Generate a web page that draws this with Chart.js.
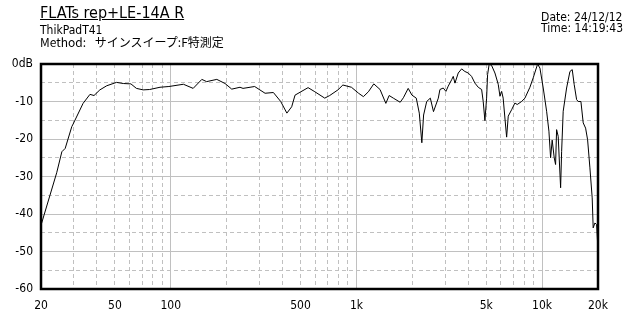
<!DOCTYPE html>
<html>
<head>
<meta charset="utf-8">
<script src="https://cdn.jsdelivr.net/npm/chart.js@4"></script>
<style>
  body { margin: 0; background: #fff; }
  #wrap { position: relative; width: 640px; height: 320px; background: #fff; }
  #myChart { position: absolute; left: 0; top: 0; }
  .txt { position: absolute; white-space: nowrap; color: #000;
         font-family: "Liberation Sans Narrow", "DejaVu Sans Condensed", "Noto Sans CJK JP", sans-serif; }
  .jp { font-family: "Liberation Sans Narrow", "Noto Sans CJK JP", sans-serif; }
</style>
</head>
<body>
<div id="wrap">
  <canvas id="myChart" width="640" height="320"></canvas>
  <div class="txt" style="left:40px; top:4px; font-size:16px; line-height:17px; text-decoration:underline;">FLATs rep+LE-14A R</div>
  <div class="txt" style="left:40px; top:24px; font-size:12px; line-height:13px;">ThikPadT41</div>
  <div class="txt jp" style="left:40px; top:35px; font-size:12px; line-height:13px;">Method: <span style="font-family:'Noto Sans CJK JP'; margin-left:6px;">サインスイープ:F特測定</span></div>
  <div class="txt" style="right:17px; top:12px; font-size:12px; line-height:11px; text-align:left;">Date: 24/12/12<br>Time: 14:19:43</div>
</div>
<script>
// frequency response (Hz, dB)
const freqs = [
  20, 24.3, 25.9, 27, 29.3, 29.8, 33.7, 36.7, 38.6, 41.5, 45.2, 51, 55.5, 61, 65.3, 71, 77, 87.5, 97.7,
  117, 132, 147, 156, 177, 196, 213, 236, 245, 283, 322, 357, 391, 422, 448, 467,
  549, 597, 675, 718, 795, 845, 940, 1027, 1090, 1160, 1240, 1340, 1440, 1500, 1580,
  1720, 1790, 1900, 1990, 2100, 2180, 2250, 2300, 2390, 2500, 2600, 2760, 2816, 2935, 3034,
  3122, 3256, 3322, 3393, 3534, 3686, 3840, 4000, 4170, 4347, 4528, 4724, 4817, 4920, 5024,
  5087, 5188, 5346, 5570, 5803, 5930, 6054, 6170, 6305, 6440, 6570, 6850, 7136, 7344, 7755,
  8080, 8596, 8954, 9458, 9733, 10140, 10576, 10880, 11110, 11330, 11620, 11820, 11970, 12210,
  12360, 12580, 12740, 12990, 13550, 14120, 14530, 14890, 15340, 15650, 16180, 16650, 17150,
  17580, 18090, 18610, 18840, 19240, 19660, 19900, 19980, 20000
];
const levels = [
  -43, -29, -23.4, -22.5, -16.7, -16, -10.5, -8.1, -8.4, -6.9, -5.8, -4.9, -5.2, -5.3, -6.5, -6.9, -6.8, -6.2, -6,
  -5.4, -6.5, -4.1, -4.7, -4.1, -5.2, -6.7, -6.2, -6.5, -6, -7.8, -7.6, -10, -13.1, -11.4, -8.3,
  -6.3, -7.4, -9.1, -8.4, -6.9, -5.6, -6.2, -7.8, -8.7, -7.4, -5.3, -6.8, -10.5, -8.4, -9.1,
  -10.2, -9, -6.5, -8.3, -9.1, -13.1, -21, -13.6, -10, -9.1, -12.7, -9.1, -6.8, -6.4, -7.3,
  -5.9, -4.2, -3.3, -5.1, -2.4, -1.3, -2, -2.4, -3.3, -5.1, -6.2, -6.8, -10, -15.1, -9.1,
  -2.8, 0, -0.4, -2.4, -5.4, -8.6, -7.3, -9.1, -14.4, -19.5, -13.9, -12.2, -10.4, -10.8, -10,
  -9.1, -6.2, -3.7, 0, -1.1, -6.4, -12.6, -17.9, -25, -20.3, -25, -26.8, -17.5, -19.3,
  -25, -33, -23.3, -12.6, -6.4, -2, -1.5, -5.5, -9.5, -10, -10, -15.7, -17.1,
  -20.2, -27.7, -35.7, -43.7, -42.4, -42.8, -47.7, -52.6, -54.5
];

const xTickValues = [20, 50, 100, 500, 1000, 5000, 10000, 20000];
const xTickLabels = ["20", "50", "100", "500", "1k", "5k", "10k", "20k"];
const yTickValues = [0, -10, -20, -30, -40, -50, -60];
const yTickLabels = ["0dB", "-10", "-20", "-30", "-40", "-50", "-60"];

const tickFont = { family: "'Liberation Sans Narrow', 'DejaVu Sans Condensed', sans-serif", size: 12 };
const gridGray = "#c0c0c0";

const frame = {
  id: "frame",
  afterDatasetsDraw(chart) {
    const a = chart.chartArea;
    const c = chart.ctx;
    c.save();
    c.strokeStyle = "#000";
    c.lineWidth = 2.5;
    c.strokeRect(a.left, a.top, a.right - a.left, a.bottom - a.top);
    c.restore();
  },
};

const ctx = document.getElementById("myChart").getContext("2d");

const myChart = new Chart(ctx, {
  type: "line",
  data: {
    datasets: [
      {
        data: freqs.map((f, i) => ({ x: f, y: levels[i] })),
        borderColor: "#000",
        borderWidth: 1,
        pointRadius: 0,
        tension: 0,
        fill: false,
      },
    ],
  },
  options: {
    responsive: false,
    animation: false,
    layout: { padding: { left: 0, top: 64, right: 42, bottom: 0 } },
    plugins: { legend: { display: false }, tooltip: { enabled: false } },
    scales: {
      x: {
        type: "logarithmic",
        min: 20,
        max: 20000,
        afterBuildTicks(scale) {
          const t = [];
          for (let d = 10; d <= 10000; d *= 10) {
            for (let m = 1; m <= 9; m++) {
              const v = d * m;
              if (v >= 20 && v <= 20000) t.push({ value: v });
            }
          }
          scale.ticks = t;
        },
        afterFit(scale) { scale.height = 31; },
        ticks: {
          autoSkip: false,
          maxRotation: 0,
          padding: 10,
          color: "#000",
          font: tickFont,
          callback(v) {
            const i = xTickValues.indexOf(v);
            return i >= 0 ? xTickLabels[i] : "";
          },
        },
        grid: {
          drawTicks: false,
          color: gridGray,
          lineWidth: 1,
        },
        border: {
          display: false,
          dash(c) {
            const v = c.tick ? c.tick.value : 0;
            return [100, 1000, 10000].includes(v) ? [] : [4, 3];
          },
        },
      },
      y: {
        min: -60,
        max: 0,
        afterBuildTicks(scale) {
          const t = [];
          for (let v = 0; v >= -60; v -= 5) t.push({ value: v });
          scale.ticks = t;
        },
        afterFit(scale) { scale.width = 41; },
        ticks: {
          autoSkip: false,
          padding: 8,
          color: "#000",
          font: tickFont,
          callback(v) {
            const i = yTickValues.indexOf(v);
            return i >= 0 ? yTickLabels[i] : "";
          },
        },
        grid: {
          drawTicks: false,
          color: gridGray,
          lineWidth: 1,
        },
        border: {
          display: false,
          dash(c) {
            const v = c.tick ? c.tick.value : 0;
            return v % 10 === 0 ? [] : [4, 3];
          },
        },
      },
    },
  },
  plugins: [frame],
});
</script>
</body>
</html>
